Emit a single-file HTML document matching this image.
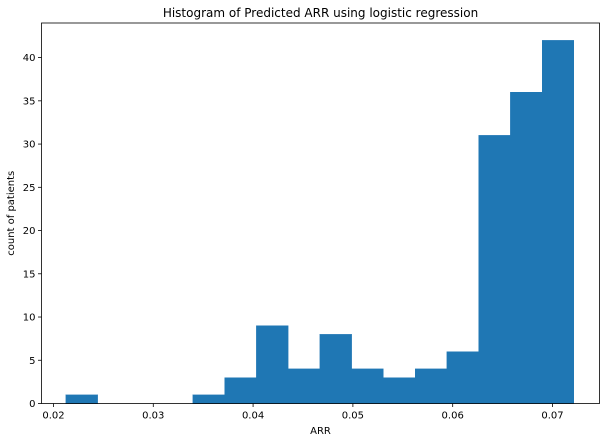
<!DOCTYPE html>
<html><head><meta charset="utf-8"><style>
body{margin:0;background:#fff;font-family:"Liberation Sans","DejaVu Sans",sans-serif;}
svg text{font-family:"DejaVu Sans","Liberation Sans",sans-serif;font-size:10px;fill:#000}
</style></head><body>
<svg id="chart" width="606" height="441"></svg>
<script>
const binStart = 0.02125;
const binWidth = 0.00318;
const counts = [1,0,0,0,1,3,9,4,8,4,3,4,6,31,36,42];
const xTicks = [0.02,0.03,0.04,0.05,0.06,0.07];
const xTickLabels = ["0.02","0.03","0.04","0.05","0.06","0.07"];
const yTicks = [0,5,10,15,20,25,30,35,40];
const L=41.5,R=599.5,T=23,B=403.5;
const xMin=0.01880,xMax=0.07471,yMax=44.0;
const sx=v=>L+(v-xMin)/(xMax-xMin)*(R-L);
const sy=v=>B-v/yMax*(B-T);
const svg=document.getElementById('chart');
const NS='http://www.w3.org/2000/svg';
function mk(t,a){const e=document.createElementNS(NS,t);for(const k in a)e.setAttribute(k,a[k]);svg.appendChild(e);return e;}
counts.forEach((c,i)=>{
  if(c<=0)return;
  const x0=sx(binStart+i*binWidth),x1=sx(binStart+(i+1)*binWidth);
  const r=mk('rect',{x:x0,y:sy(c),width:x1-x0,height:sy(0)-sy(c),fill:'#1f77b4',stroke:'#1f77b4','stroke-width':0.4,'shape-rendering':'crispEdges'});
  
  
});
const frame=mk('rect',{x:L,y:T,width:R-L,height:B-T,fill:'none',stroke:'#000','stroke-width':0.8});


xTicks.forEach((v,i)=>{
  const x=sx(v);
  mk('line',{x1:x,x2:x,y1:B,y2:B+3.5,stroke:'#000','stroke-width':0.8});
  const t=mk('text',{x:x,y:B+15,'text-anchor':'middle'});t.textContent=xTickLabels[i];
  
  
});
yTicks.forEach(v=>{
  const y=sy(v);
  mk('line',{x1:L-3.5,x2:L,y1:y,y2:y,stroke:'#000','stroke-width':0.8});
  const t=mk('text',{x:L-6,y:y+3.5,'text-anchor':'end'});t.textContent=v;
  
  
});
const xt=mk('text',{x:(L+R)/2,y:434,'text-anchor':'middle'});xt.textContent='ARR';


const yt=mk('text',{x:14,y:(T+B)/2,'text-anchor':'middle',transform:`rotate(-90 14 ${(T+B)/2})`});yt.textContent='count of patients';


const tt=mk('text',{x:(L+R)/2,y:17,'text-anchor':'middle','style':'font-size:12px'});tt.textContent='Histogram of Predicted ARR using logistic regression';


</script>
</body></html>
